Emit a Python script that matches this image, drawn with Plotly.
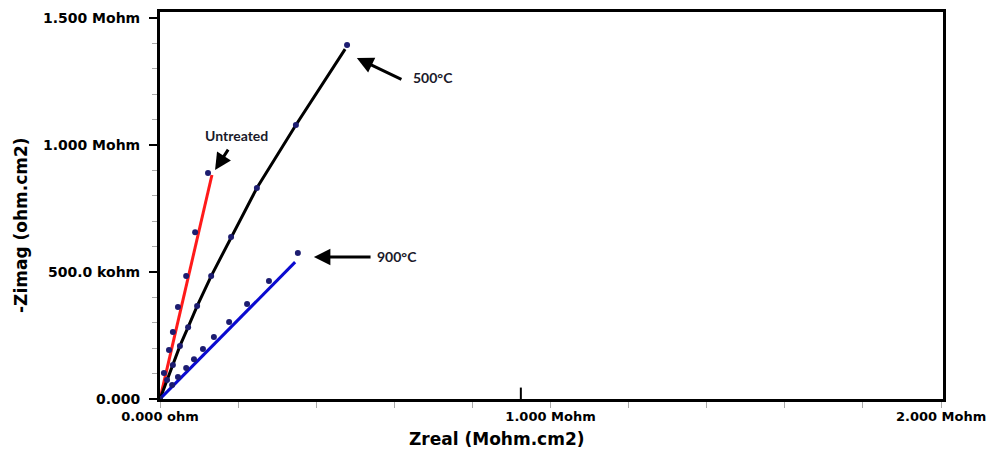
import plotly.graph_objects as go

# ---- data (Zreal, -Zimag in Mohm.cm2) ----
untreated_x = [0.0, 0.010, 0.023, 0.033, 0.046, 0.067, 0.090, 0.123]
untreated_y = [0.0, 0.102, 0.193, 0.264, 0.362, 0.484, 0.657, 0.890]
untreated_fit_x = [0.0, 0.133]
untreated_fit_y = [0.0, 0.882]

t500_x = [0.0, 0.018, 0.033, 0.051, 0.072, 0.095, 0.131, 0.182, 0.248, 0.348, 0.479]
t500_y = [0.0, 0.075, 0.134, 0.209, 0.283, 0.366, 0.484, 0.638, 0.831, 1.079, 1.394]
t500_fit_x = [0.0, 0.018, 0.033, 0.051, 0.072, 0.095, 0.131, 0.182, 0.248, 0.348, 0.474]
t500_fit_y = [0.0, 0.075, 0.134, 0.209, 0.283, 0.366, 0.484, 0.638, 0.831, 1.079, 1.378]

t900_x = [0.0, 0.031, 0.046, 0.067, 0.087, 0.110, 0.138, 0.177, 0.223, 0.279, 0.353]
t900_y = [0.0, 0.055, 0.087, 0.122, 0.157, 0.197, 0.244, 0.303, 0.374, 0.465, 0.575]
t900_fit_x = [0.0, 0.346]
t900_fit_y = [0.0, 0.539]

x_tickvals = [0, 1, 2]
x_ticktext = ["0.000 ohm", "1.000 Mohm", "2.000 Mohm"]
y_tickvals = [0, 0.5, 1.0, 1.5]
y_ticktext = ["0.000", "500.0 kohm", "1.000 Mohm", "1.500 Mohm"]

labels = ["Untreated", "500°C", "900°C"]
label_pos = [(0.197, 1.039), (0.699, 1.268), (0.607, 0.563)]
arrow_tip = [(0.141, 0.902), (0.504, 1.343), (0.394, 0.559)]
arrow_tail = [(0.177, 0.988), (0.622, 1.256), (0.543, 0.559)]

MARK = "#1c1c70"
W, H = 989, 458
L, R, T, B = 160, 46, 12, 59
pw, ph = W - L - R, H - T - B

fig = go.Figure()

for fx, fy, col in [(untreated_fit_x, untreated_fit_y, "#ff1a1a"),
                    (t500_fit_x, t500_fit_y, "#000000"),
                    (t900_fit_x, t900_fit_y, "#0a0ad0")]:
    fig.add_trace(go.Scatter(x=fx, y=fy, mode="lines",
                             line=dict(color=col, width=3), showlegend=False,
                             hoverinfo="skip"))

for mx, my in [(untreated_x, untreated_y), (t500_x, t500_y), (t900_x, t900_y)]:
    fig.add_trace(go.Scatter(x=mx, y=my, mode="markers",
                             marker=dict(color=MARK, size=6), showlegend=False))

ybold = dict(family="DejaVu Sans, sans-serif", size=14, color="black", weight="bold")
xbold = dict(family="DejaVu Sans, sans-serif", size=13, color="black", weight="bold")
title_font = dict(family="DejaVu Sans, sans-serif", size=17, color="black", weight="bold")

for txt, (lx, ly) in zip(labels, label_pos):
    fig.add_annotation(x=lx, y=ly, xref="x", yref="y", text=txt, showarrow=False,
                       font=dict(family="Lato, Open Sans, sans-serif", size=14,
                                 color="#1a1a2a", weight="bold"))
for (tx, ty), (ax, ay) in zip(arrow_tip, arrow_tail):
    fig.add_annotation(x=tx, y=ty, ax=ax, ay=ay, xref="x", yref="y", axref="x", ayref="y",
                       text="", showarrow=True, arrowhead=2, arrowsize=1.1,
                       arrowwidth=3, arrowcolor="black")

# axis titles (placed by pixel, converted to paper coords)
def px_to_paper(px, py):
    return (px - L) / pw, (H - B - py) / ph

tx_, ty_ = px_to_paper(497, 439)
fig.add_annotation(x=tx_, y=ty_, xref="paper", yref="paper", text="Zreal (Mohm.cm2)",
                   xanchor="center", yanchor="middle", showarrow=False, font=title_font)
tx_, ty_ = px_to_paper(21, 225)
fig.add_annotation(text="-Zimag (ohm.cm2)", x=tx_, y=ty_, xref="paper", yref="paper",
                   xanchor="center", yanchor="middle", textangle=-90, showarrow=False,
                   font=title_font)

# stray tall tick at bottom axis
fig.add_shape(type="line", x0=0.924, x1=0.924, y0=0, y1=0.045, xref="x", yref="y",
              line=dict(color="black", width=2))

fig.update_xaxes(range=[0, 2.005], showline=True, linecolor="black", linewidth=3,
                 mirror=True, showgrid=False, zeroline=False, automargin=False,
                 tickvals=x_tickvals, ticktext=x_ticktext, ticks="", tickfont=xbold,
                 ticklabelstandoff=3, ticklabeloverflow="allow",
                 minor=dict(dtick=0.2, tick0=0, ticks="outside", ticklen=6,
                            tickcolor="#aaaaaa", tickwidth=1, showgrid=False))
fig.update_yaxes(range=[0, 1.524], showline=True, linecolor="black", linewidth=3,
                 mirror=True, showgrid=False, zeroline=False, automargin=False,
                 tickvals=y_tickvals, ticktext=y_ticktext, ticks="outside", ticklen=8,
                 tickwidth=2, tickcolor="black", tickfont=ybold, ticklabelstandoff=6,
                 minor=dict(dtick=0.1, tick0=0, ticks="outside", ticklen=5,
                            tickcolor="#aaaaaa", tickwidth=1, showgrid=False))

fig.update_layout(width=W, height=H, margin=dict(l=L, r=R, t=T, b=B, autoexpand=False),
                  plot_bgcolor="white", paper_bgcolor="white", showlegend=False)

fig.write_html("out.html", config={"displayModeBar": False},
               post_script="document.body.style.margin='0';document.body.style.overflow='hidden';")
